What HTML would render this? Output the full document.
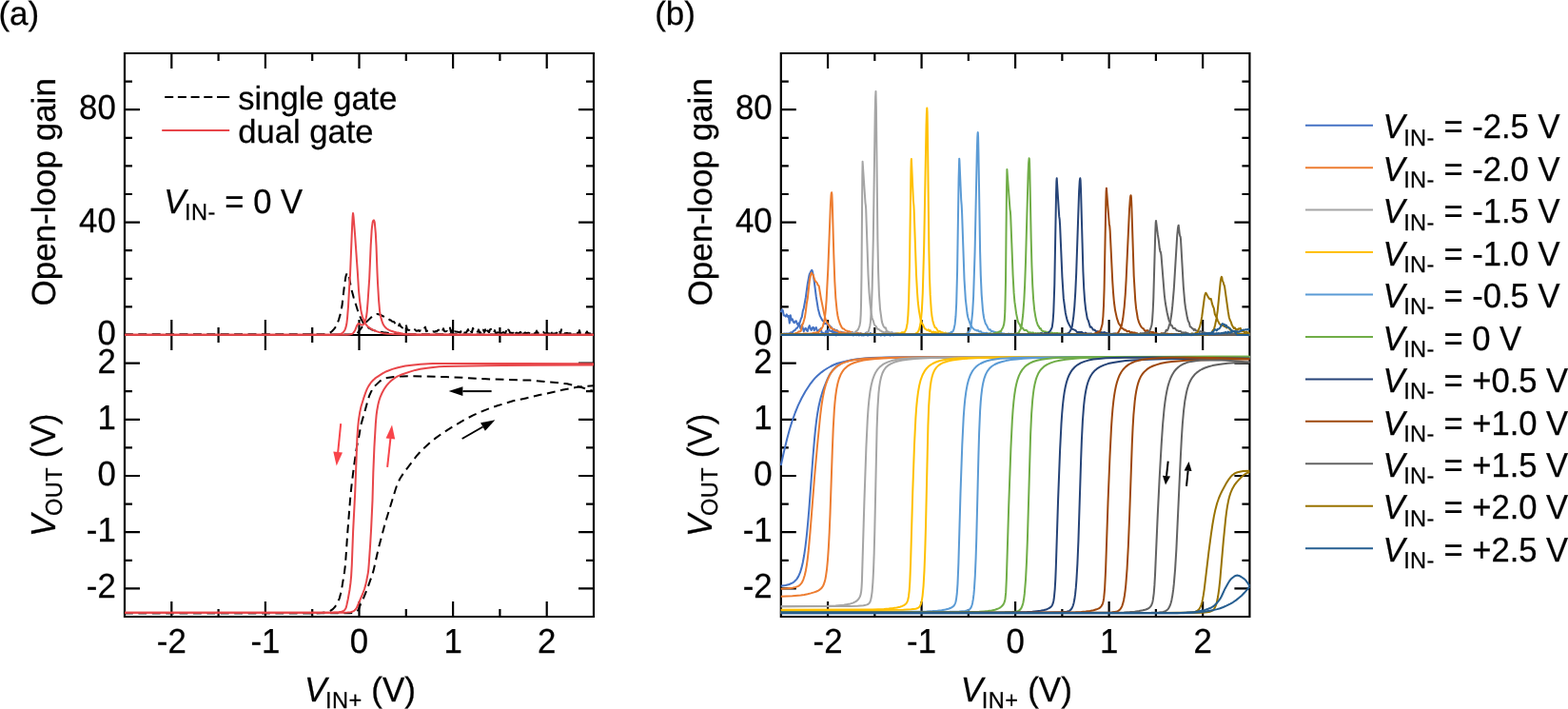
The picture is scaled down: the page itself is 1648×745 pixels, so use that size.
<!DOCTYPE html>
<html lang="en">
<head>
<meta charset="utf-8">
<title>Open-loop gain and V_OUT versus V_IN+</title>
<style>
html,body{margin:0;padding:0;background:#fff;}
body{width:1648px;height:745px;overflow:hidden;}
svg{display:block;}
text{font-family:"Liberation Sans", sans-serif;font-size:34.8px;fill:#000;stroke:#000;stroke-width:0.25px;text-rendering:geometricPrecision;}
.t{font-size:35px;}
.l{font-size:34.6px;}
.i{font-style:italic;}
.s{font-size:23.6px;letter-spacing:0.4px;}
.ax{fill:none;stroke:#000;stroke-width:2.2;stroke-linecap:butt;stroke-linejoin:miter;}
.c{fill:none;stroke-width:2;stroke-linejoin:round;stroke-linecap:butt;}
</style>
</head>
<body>
<svg width="1648" height="745" viewBox="0 0 1648 745">
<rect width="1648" height="745" fill="#fff"/>
<g id="panel-a">
<path class="ax" d="M131 56H624V648H131ZM131 352H624"/>
<path class="ax" d="M180.3 56v16M180.3 336v32M180.3 648v-16M229.6 56v8M229.6 344v16M229.6 648v-8M278.9 56v16M278.9 336v32M278.9 648v-16M328.2 56v8M328.2 344v16M328.2 648v-8M377.5 56v16M377.5 336v32M377.5 648v-16M426.8 56v8M426.8 344v16M426.8 648v-8M476.1 56v16M476.1 336v32M476.1 648v-16M525.4 56v8M525.4 344v16M525.4 648v-8M574.7 56v16M574.7 336v32M574.7 648v-16M131 322.4h8M624 322.4h-8M131 292.8h8M624 292.8h-8M131 263.2h8M624 263.2h-8M131 233.6h16M624 233.6h-16M131 204h8M624 204h-8M131 174.4h8M624 174.4h-8M131 144.8h8M624 144.8h-8M131 115.2h16M624 115.2h-16M131 85.6h8M624 85.6h-8M131 618.4h16M624 618.4h-16M131 588.8h8M624 588.8h-8M131 559.2h16M624 559.2h-16M131 529.6h8M624 529.6h-8M131 500h16M624 500h-16M131 470.4h8M624 470.4h-8M131 440.8h16M624 440.8h-16M131 411.2h8M624 411.2h-8M131 381.6h16M624 381.6h-16"/>
<path class="c" stroke="#000" stroke-width="2.4" stroke-dasharray="8.8 5.6" d="M131 351.6L335.2 351.6L341 351.2L343.8 350.7L347.5 349.2L349 348L351 345.9L352.5 343.8L353.8 341.6L356 336.1L357.8 329.8L359.5 321.3L361.8 301.3L363.2 291.6L364 288.6L364.8 287L365.2 286.6L365.8 287.2L366.8 290L369 302.5L371.8 313L376.5 327.9L378 331.9L379.5 335.1L381 337.9L382.5 340.3L383.5 341.4L385.5 343.1L388 344.9L390.5 346.2L392.8 347.1L396 348L403 349.3L413 350.4L421.8 350.9L438.5 351.3L624 351.6"/>
<path class="c" stroke="#000" stroke-width="2.4" stroke-dasharray="8.8 5.6" d="M131 351.6L371 351.5L374 350.8L375 350.4L376 349.6L382 341.7L385 338.4L391 332.6L394 330.5L395 330.1L396 329.9L398 330.3L400 331L407 334.4L408 334.3L409 335.6L410 336.4L411 336.6L412 337.7L414 338.1L415 339.5L416 340.4L417 339.1L418 341.1L419 342.3L420 340.3L421 342.8L423 344.5L426 346.2L427 342.2L428 346.5L430 347L431 345.7L432 346.8L433 347.4L434 347L435 347L436 346.2L437 347.3L438 347.8L439 347.6L440 347L441 348L442 347.3L443 347.8L445 348.1L446 345L447 343.6L448 348.2L449 347.7L452 348.1L453 347.3L454 348.4L455 348.2L457 348.8L458 347.9L459 348.5L460 347.1L461 346.6L462 348.8L463 348.1L464 348.8L465 348L466 345.2L467 348L468 348.4L470 347.9L471 349L472 348.8L473 344.5L474 349.2L475 345.9L476 348.2L477 349.4L478 348.2L479 348.6L481 348.8L484 349.4L485 346.4L486 349.4L488 349.6L490 349.6L492 346.1L493 349.3L494 346.5L495 348.4L496 349.5L497 344.8L499 349.2L500 349.3L501 349.8L502 348.6L503 346.4L504 349.4L505 349.5L506 348.2L507 349.9L508 346.6L509 349.2L510 346.2L511 350L512 346.3L513 348.3L514 349.3L515 346.4L516 345.7L517 349.4L518 349.9L519 349.9L520 347.1L521 350L522 350L523 349.3L524 349.2L525 346.8L526 350.2L527 350.2L529 349.1L531 350.3L532 347.8L533 350.1L534 346.4L535 347L536 349.6L539 350.1L540 349.1L541 346.5L542 350.1L543 349.5L544 350.3L545 350.3L546 349.7L547 348.7L548 350.4L549 347.5L550 350.1L551 350.5L552 349.4L553 350.3L555 349.7L556 349.8L557 350.4L558 349.9L559 350.3L560 349L561 348.6L562 350.3L563 350.1L564 347.5L565 350L566 349.8L567 350.7L569 349.6L570 348.4L571 348.7L572 350L574 350.4L575 349.7L576 350.2L578 350.6L579 346.8L580 350.4L581 350.7L582 350.4L583 350.8L585 349.5L586 350.8L587 350.2L588 346.9L589 350.8L590 346.2L591 350.4L593 349.6L594 350.9L595 350.1L596 349.9L598 350.4L599 350.2L600 350.7L601 350.4L603 350.6L604 350.5L605 350.7L608 349.7L609 347.1L610 350.8L612 351L613 350.9L614 349.4L615 349.7L616 350.3L617 348.4L618 350.4L619 350.2L620 350.6L621 350.5L623 350.2L624 350.9"/>
<path class="c" stroke="#000" stroke-width="2.4" stroke-dasharray="8.8 5.6" d="M131 644.3L331.2 644.3L338 643.9L343.2 643.2L347.2 641.9L349.8 640.1L352 637.8L353.5 635.6L355.2 632.3L356.8 628.6L358 624L359.2 618.3L362 601.2L363 593.1L365.2 560.7L368.2 522.8L369.5 510.2L371.8 491.7L374 475.7L375.2 468.4L377.8 455.8L379.2 446.8L383.2 433.1L386.8 420L388 416.2L389.8 412.1L391.8 408.6L394.2 405.4L399.2 400.6L400.8 399.5L402.5 398.6L404.8 397.7L407 397L414 395.9L423.2 395.4L433 395.3L468.2 396L486.2 396.8L503.5 397.9L517 398.5L557.2 399.6L578 401.6L591 402.7L596 403.3L601 404.4L611 407L624 411"/>
<path class="c" stroke="#000" stroke-width="2.4" stroke-dasharray="8.8 5.6" d="M131 644.3L368 644.3L370.8 644L374 643L376.2 641.3L377.2 639.7L379 635L382.5 627.3L386 618.8L391.8 602.2L392.8 598.6L397.8 576.1L405 549L415.8 514L417.5 509L420.5 502.7L424 497.3L437.8 479.2L441 475.5L445.2 471.2L452.2 464.8L457.8 460.4L465.2 455.1L476.8 447.8L487.2 441.6L497.2 436.4L504.8 433L513.8 429.4L522.8 426.3L539.2 421.3L552.8 418.4L566 415.3L579.2 412.5L590.8 409.8L599.2 408.1L605.2 407.1L615.5 405.9L624 405.3"/>
<path class="c" stroke="#E8464A" d="M131 351.7L350.2 351.7L352.7 351.6L355.2 351.3L358.3 350.8L359.1 350.5L360.2 349.7L361.4 348.3L362.3 347L363 345.4L363.7 343.1L364.3 340.5L365 334.6L366 322.2L367.1 302.5L368 288.9L370.2 235.6L370.6 228.2L371 224.1L371.2 224.8L371.6 228.2L373.1 246.9L375.9 287L377 305L378 315.3L379.4 326.1L380.1 329.6L381 333L382.4 337L383.5 339.3L385 341.5L386.7 343.2L388.8 344.8L391.4 346.3L393.9 347.5L396.4 348.4L400.2 349.6L402.8 350.2L407.3 350.7L412 351.1L426.1 351.5L439.6 351.7L624 351.7"/>
<path class="c" stroke="#E8464A" d="M131 351.7L364.1 351.7L367.1 351.5L370.2 350.7L370.8 350.3L371.5 349.6L373.1 347.3L375 342.4L376.4 340.2L376.7 340L377.2 340.1L379.6 341.4L380.5 341.6L381.5 341.3L382.6 340.4L383 339.6L383.5 338.1L384.6 334.5L385.1 332.3L385.7 327.6L386.5 318L388.2 292.7L389.7 257.8L390.6 242.7L391 238.3L391.7 233.4L392.1 232.2L392.5 231.6L392.8 231.4L393 231.5L393.3 232.1L393.8 234L394.8 245.1L395.5 258.3L396.5 286.2L397 297.1L398.1 315.7L399.1 327.1L399.7 330.7L400.4 333.9L401.6 337.9L402.7 340.8L403.9 342.7L405.3 344.3L406.7 345.5L408.6 346.6L411.2 347.8L414.5 348.8L417.9 349.6L423.8 350.7L426.8 351L438.9 351.5L464.4 351.6L624 351.7"/>
<path class="c" stroke="#E8464A" d="M131 643.7L345.6 643.7L350.5 643.6L356.1 643.2L358.9 642.8L360.6 642.2L362 641.2L363.3 639.5L363.8 638.2L364.4 635.8L365.7 629.8L367.5 619.7L368.4 612.9L369.1 605.6L369.8 593.5L371.1 558.6L373.2 517.7L375.4 460L376.2 448.5L377 440.8L378.1 433.8L379.5 427.3L382.3 418.1L384.2 412.6L385.8 408.6L387.4 405.6L389.7 402.2L392.1 399.5L393.9 397.9L396 396.3L402.1 392.4L406.3 390.2L412.4 387.9L418.2 386.2L426 384.6L432.5 383.7L441.9 382.7L454.4 382.1L464.5 381.9L548.1 381.9L624 382.3"/>
<path class="c" stroke="#E8464A" d="M131 643.7L362.2 643.7L365.2 643.6L368.6 643.2L370 642.8L371.6 642.1L372.5 641.5L373.3 640.8L374.8 638.8L381.4 623.5L383 619L384.2 614.9L385.2 610.4L386.8 602.1L387.3 598.1L387.7 593.1L389.2 571.2L390.1 555.7L391.5 525.7L392.3 496.9L393.4 469.9L394.8 445.7L395.6 436.1L396.3 431L397.3 425.6L398.4 421L399.6 417.4L401.5 413L403.5 409.2L406.1 405.4L408.7 402.4L410.9 400.3L413.1 398.5L415.3 397L417.4 395.7L419.7 394.6L422.3 393.5L430.8 390.6L436.4 388.9L441.8 387.8L448.9 386.8L461.5 385.3L467.1 385L480.1 384.7L528.4 384L566.4 383.8L624 383.6"/>
<path d="M358.2 445.2L355.2 475.1" stroke="#F8444A" stroke-width="2.0" fill="none"/><path d="M353.7 489.5L350.3 474.6L360 475.6Z" fill="#F8444A"/>
<path d="M407.1 490.8L410.4 460.9" stroke="#F8444A" stroke-width="2.0" fill="none"/><path d="M412 446.5L415.2 461.4L405.6 460.4Z" fill="#F8444A"/>
<path d="M516.6 411.1L486.4 411.1" stroke="#000" stroke-width="2.0" fill="none"/><path d="M471.6 411.1L486.4 406.2L486.4 416Z" fill="#000"/>
<path d="M485.7 461L507.5 448.5" stroke="#000" stroke-width="2.0" fill="none"/><path d="M520.4 441.2L509.9 452.7L505.1 444.3Z" fill="#000"/>
<path d="M173.2 101.9H241.2" stroke="#000" stroke-width="2" stroke-dasharray="9 4.7 9 4.7 9 4.7 9 4.7 14 50" fill="none"/>
<path d="M170.2 136.9H241.2" stroke="#E8464A" stroke-width="2" fill="none"/>
<text text-anchor="end" transform="translate(121.8 362) scale(1 1.04)">0</text>
<text text-anchor="end" transform="translate(121.8 243.6) scale(1 1.04)">40</text>
<text text-anchor="end" transform="translate(121.8 125.2) scale(1 1.04)">80</text>
<text text-anchor="end" transform="translate(121.8 628.4) scale(1 1.04)">-2</text>
<text text-anchor="middle" transform="translate(180.3 685.7) scale(1 1.04)">-2</text>
<text text-anchor="end" transform="translate(121.8 569.2) scale(1 1.04)">-1</text>
<text text-anchor="middle" transform="translate(278.9 685.7) scale(1 1.04)">-1</text>
<text text-anchor="end" transform="translate(121.8 510) scale(1 1.04)">0</text>
<text text-anchor="middle" transform="translate(377.5 685.7) scale(1 1.04)">0</text>
<text text-anchor="end" transform="translate(121.8 450.8) scale(1 1.04)">1</text>
<text text-anchor="middle" transform="translate(476.1 685.7) scale(1 1.04)">1</text>
<text text-anchor="end" transform="translate(121.8 391.6) scale(1 1.04)">2</text>
<text text-anchor="middle" transform="translate(574.7 685.7) scale(1 1.04)">2</text>
<text class="t" transform="translate(58.3 321.5) rotate(-90)">Open-loop gain</text>
<text class="t" transform="translate(58.3 564) rotate(-90) scale(1 1.04)"><tspan class="i">V</tspan><tspan class="s" dx="-1.3" dy="6.0">OUT</tspan><tspan dy="-6.0"> (V)</tspan></text>
<text class="t" transform="translate(320 737.3) scale(1 1.04)"><tspan class="i">V</tspan><tspan class="s" dx="-1.3" dy="6.8">IN+</tspan><tspan dy="-6.8"> (V)</tspan></text>
<text class="t" transform="translate(-1.6 25.5)">(a)</text>
<text class="l" transform="translate(250.2 115.4)">single gate</text>
<text class="l" transform="translate(250.2 149.7)">dual gate</text>
<text class="l" transform="translate(172.3 223.8) scale(1 1.04)"><tspan class="i">V</tspan><tspan class="s" dx="-1.3" dy="7.0">IN-</tspan><tspan dy="-7.0"> = 0 V</tspan></text>
</g>
<g id="panel-b">
<path class="ax" d="M820.8 56H1313.4V648H820.8ZM820.8 352H1313.4"/>
<path class="ax" d="M870.06 56v16M870.06 336v32M870.06 648v-16M919.32 56v8M919.32 344v16M919.32 648v-8M968.58 56v16M968.58 336v32M968.58 648v-16M1017.84 56v8M1017.84 344v16M1017.84 648v-8M1067.1 56v16M1067.1 336v32M1067.1 648v-16M1116.36 56v8M1116.36 344v16M1116.36 648v-8M1165.62 56v16M1165.62 336v32M1165.62 648v-16M1214.88 56v8M1214.88 344v16M1214.88 648v-8M1264.14 56v16M1264.14 336v32M1264.14 648v-16M820.8 322.4h8M1313.4 322.4h-8M820.8 292.8h8M1313.4 292.8h-8M820.8 263.2h8M1313.4 263.2h-8M820.8 233.6h16M1313.4 233.6h-16M820.8 204h8M1313.4 204h-8M820.8 174.4h8M1313.4 174.4h-8M820.8 144.8h8M1313.4 144.8h-8M820.8 115.2h16M1313.4 115.2h-16M820.8 85.6h8M1313.4 85.6h-8M820.8 618.4h16M1313.4 618.4h-16M820.8 588.8h8M1313.4 588.8h-8M820.8 559.2h16M1313.4 559.2h-16M820.8 529.6h8M1313.4 529.6h-8M820.8 500h16M1313.4 500h-16M820.8 470.4h8M1313.4 470.4h-8M820.8 440.8h16M1313.4 440.8h-16M820.8 411.2h8M1313.4 411.2h-8M820.8 381.6h16M1313.4 381.6h-16"/>
<path class="c" stroke="#4472C4" d="M820.8 328.3L821.8 325.2L822.8 326.2L823.8 331.6L824.8 331.6L825.8 332.6L826.8 330.3L827.8 332.8L828.8 331.8L829.8 339.6L830.8 331.3L831.8 336.5L832.8 335.2L833.8 338.1L834.8 339.3L835.8 337.6L836.8 337.2L837.8 340.5L838.8 341L839.8 339.3L840.8 343.9L841.8 346L842.8 341.3L844.8 348.2L845.8 345.6L846.8 344.9L847.8 347L848.8 348L849.8 344.1L850.8 342.1L851.8 345.4L852.8 347L853.8 344.4L854.8 343.9L855.8 347.1L856.8 345.2L857.8 344L858.8 347.6L859.8 349.4L860.8 346.5L861.8 346.9L862.8 345L863.8 351.1L864.8 349.7L865.8 350.3L866.8 352.4L867.8 348.3L868.8 347.5L869.8 350.3L870.8 345.9L871.8 347.2L873.8 348.3L874.8 347.4L875.8 351.8L876.8 348.4L877.8 348.6L878.8 352.5L879.8 349.5L880.8 350.6L881.8 349.2L882.8 351L884.8 350L885.8 351.7L886.8 349.7L887.8 350.7L888.8 350L889.8 351.3L890.8 349.4L891.8 350L892.8 351L893.8 350.1L895.8 349L896.8 352.5L897.8 350.1L899.8 351.3L900.8 352.2L901.8 349.9L902.8 352.5L903.8 350.7L904.8 350L905.7 352.5L906.1 352.5L906.8 351.6L907.8 352.5L909.8 349.9L910.8 349.5L911.7 352.5L912.3 352.5L913.8 350.8L914.8 350L916.8 352.1L917.8 351.2L919.8 351.7L920.8 352.1L921.8 351.1L924.8 351.7L925.6 352.5L926 352.5L926.8 351.9L927.8 350.5L929.5 352.5L929.9 352.5L930.8 350.4L931.8 351.1L932.8 349.7L933.8 351.5L934.8 352L935.4 352.5L935.9 352.5L936.8 350.5L937.8 349.4L938.8 352.3L939.8 352.2L940.4 351.5L940.5 351.7L1313.4 351.7"/>
<path class="c" stroke="#4472C4" d="M820.8 351L822.8 351.4L823.8 350.5L825.8 350.8L826.8 350.4L827.8 350.8L829.8 350.3L830.8 349.5L831.8 349.2L832.8 349.3L833.8 347.9L834.8 347.2L835.8 346.8L836.8 345.1L837.8 344.8L838.8 343.1L840.8 338.6L841.8 335.1L842.8 333L843.8 326.9L844.8 323.7L846.8 312.7L848.8 298.2L850.2 290.6L850.9 287.7L851.8 286.3L852.5 284.6L853.2 283.8L853.7 284.4L854.1 285.9L855.6 294.4L857.8 311.9L859.8 324.4L861.8 331.9L864.1 336.2L864.8 337.1L865.8 337.8L866.8 340.3L868.8 339.7L869.8 341.4L870.8 342L871.8 342.1L873.8 344L874.8 345.4L875.8 346.3L876.8 345.9L877.8 347.4L879.8 347L880.8 348.5L881.2 348.7L881.8 349L883.8 348.8L885.8 349.5L886.8 349.5L887.8 350.6L889.8 350.1L890.8 350.7L891.8 350.9L893.8 350.9L894.8 350.7L895.8 351.1L897.8 350.3L898.8 351L899.8 350.6L901.8 351.4L902.8 351.2L903.8 351.5L904.8 351L905.8 351.6L906.8 350.9L907.8 351.1L908.8 351.9L909.8 351.1L910.8 351L911.8 351.6L912.8 351.2L913.8 351.9L914.8 351.4L915.8 351.9L916.8 351.4L917.8 351.9L918.8 352.2L919.8 351.4L920.8 351L921.8 351.7L922.8 351.3L924.8 351.6L926.8 351.2L927.8 351.9L928.8 351.5L929.8 351.5L930.8 351.9L931.6 351.4L931.7 351.7L1313.4 351.7"/>
<path class="c" stroke="#ED7D31" d="M820.8 351.6L822.8 351.5L823.8 351.3L825.8 351.6L826.8 351.5L827.8 351.2L829.8 351.2L830.8 350.5L831.8 351.1L832.8 350.9L833.8 351.1L836.8 349.9L837.8 349.8L839.8 348.3L840.8 348.4L841.8 347.7L842.8 342.4L844.1 339.7L845.8 333.8L846.8 327.7L847.8 319.1L848.8 313.6L850.8 295.3L852.1 288.5L852.6 287L853 286.6L853.8 288.4L854.8 288.9L855.8 292.9L856.8 295.1L858.8 297.4L859.6 299.6L860.3 299.9L860.8 300.9L862.8 313.1L866.6 331.6L867.8 335.9L868.8 338.4L871.8 342.3L872.8 344.5L873.8 344.5L874.8 345.4L877.8 347.3L878.8 347.2L879.8 347.9L880.8 348.2L881.8 349L882.8 348.7L883.8 349.2L884.8 350.2L885.8 349.4L886.8 349.8L887.8 349.6L888.8 350.1L891.8 350.4L893.8 351.1L894.8 350.2L895.8 351.2L897.8 350.7L901.8 350.8L902.8 351.1L903.8 350.5L904.8 351.4L905.8 351.2L907.8 351.4L909.8 351L910.8 351.5L911.8 351.5L914.8 351L917.8 351.5L918.8 351.4L920.8 351.8L921.8 351.5L924.8 351.6L925.8 351.2L929.8 351.8L931.8 351.5L933.8 351.6L934.8 351.4L936.1 351.7L1313.4 351.7"/>
<path class="c" stroke="#ED7D31" d="M820.8 351.5L823.8 351.4L824.8 351.2L825.8 351.5L826.8 351.4L827.8 351.8L829.8 351.6L830.8 351.7L832.8 351.2L833.8 351.4L834.8 351.4L836.8 351.2L837.8 351.4L838.8 351.1L841.8 350.9L842.8 351L843.8 350.9L844.8 350.4L845.8 350.8L846.8 350.5L850.8 350.7L851.8 350.4L852.8 350.5L853.8 350.4L854.8 349.7L855.8 350.1L856.8 349.5L857.8 349.7L858.8 349.2L859.8 349.4L860.8 348.6L861.8 346.6L862.8 346.5L864.8 343.1L866.3 337.2L866.9 334L867.8 326L868.6 315.5L870.3 282.7L872.9 214.8L873.5 205.4L873.8 202.9L874.1 202.2L874.4 204.4L874.8 213.3L876.3 267.5L877.3 295.2L878.3 313L879.6 326.2L880.4 331.5L881.1 334.8L882.8 340.2L884.8 344.2L885.8 345.2L886.8 345.4L888.8 347.4L889.8 347.5L891.8 348.4L892.8 348.1L893.8 349.3L894.8 349.1L895.8 349.4L897.8 350.3L898.8 349.8L900.8 350.3L902.8 350.5L903.8 350.8L904.8 350.6L905.8 351.2L906.8 350.8L907.8 351.2L909.8 350.8L911.8 351.2L912.8 351L915.8 351.3L916.8 350.9L918.8 351.2L919.8 351.6L920.8 351.2L921.8 351.6L922.8 351.3L923.8 351.6L924.8 351L925.8 351.8L926.8 351.2L927.8 351.3L928.8 351.8L930.8 351.2L931.8 351.3L932.8 351.8L933.8 351.6L934.8 351.8L936.8 351.7L937.8 351.2L938.8 351.5L940.8 351.6L942.8 351.5L943.8 351.8L944.8 351.3L945.8 351.8L948.8 351.3L950.2 351.7L1313.4 351.7"/>
<path class="c" stroke="#A5A5A5" d="M820.8 351.7L861.9 351.7L862 351.5L862.8 351.4L863.8 351.7L864.8 351.5L866.8 351.7L867.8 351.4L868.8 351.7L869.8 351.5L870.8 351.7L872.8 351.6L873.8 351.3L875.8 351.4L876.8 351.1L877.8 352L878.8 351.6L879.8 351.9L880.8 351.3L881.8 351.2L883.8 351.1L884.8 351.4L885.8 350.7L888.8 351.2L889.8 350.7L890.8 350.9L893.8 350.4L894.8 350.5L895.8 349.6L896.8 350.1L897.4 350L897.8 349.9L898.8 348.8L899.8 348.2L901.1 347L901.8 346.3L902.2 345.5L903.5 342.2L904.2 338.1L904.7 330.6L905 321L905.5 287.9L906.3 186.5L906.6 169.7L909.5 213.1L909.9 215.9L910.2 220.3L912.5 288.6L913.5 307.1L914.6 319.6L915.6 328L916.6 334L916.9 335.3L917.8 337L918.8 340.7L919.8 342.2L920.8 343L921.8 345.1L922.8 345.9L923.8 346.1L924.8 347.2L925.8 347.4L926.8 348.5L927.8 348.5L928.8 349.3L929.8 349.7L930.8 348.6L931.8 349.3L932.8 349.4L933.8 350.2L934.8 350.1L935.8 350.3L936.8 350.8L937.8 350.3L938.8 350.7L939.8 350.7L940.8 351.1L941.8 350.5L943.8 350.8L944.8 351.2L945.8 351.2L946.8 350.8L947.8 351.2L949.8 351.2L950.8 351.5L951.8 350.9L952.8 351.7L953.8 351.3L954.8 351.4L955.8 351.7L956.8 351.3L959.8 351.6L961.8 351.3L962.8 351.4L963.8 351.2L964.8 351.3L966.8 351.3L967.8 351.7L971.8 351.3L975.8 351.6L977.8 351.7L978.4 351.5L978.5 351.7L1313.4 351.7"/>
<path class="c" stroke="#A5A5A5" d="M820.8 351.7L893.8 351.7L894.8 352L895.8 351.4L899.8 351.4L900.8 351L901.8 351.4L902.8 351.2L903.8 351.5L904.8 351.2L907.8 351.3L908.8 351.1L911.3 349.7L912.8 348.3L914.3 342.7L914.9 338.6L916 320.4L916.7 301.9L917.8 250.8L919.7 119.3L920.1 102.1L920.5 95.9L920.9 112L922.4 250.5L923.1 285.3L923.9 308.5L925 324.6L926.8 337.6L927.7 340.7L928.7 343L929.8 344.5L930.8 344.3L931.8 347.2L932.8 348.8L933.8 348.5L934.8 349.4L936.8 349.3L937.8 349.9L938.8 350L939.8 350.6L940.8 350L941.8 350.5L942.8 350L943.8 350.1L944.8 350.8L947.8 350.6L948.8 351.3L950.8 350.5L951.8 351L953.8 351.1L954.8 351.4L955.8 350.9L957.8 351.2L959.8 351.1L960.8 351.7L961.8 351.2L962.8 351.5L963.8 351.3L965.8 351.6L966.8 351.2L968.8 351.5L971.8 351.5L972.8 351.9L976.8 351.2L977.8 351.7L978.8 351.2L979.8 351.5L980.8 351.4L982.8 351.7L983.8 351.3L984.8 351.6L987.8 351.3L988.8 351.9L992.4 351.2L992.5 351.7L1313.4 351.7"/>
<path class="c" stroke="#FFC000" d="M820.8 351.7L913.3 351.8L915.8 351.4L916.8 351.7L919.8 351.6L920.8 351.7L922.8 351.5L924.8 351.5L925.8 351.7L927.8 351.6L928.8 351.2L929.8 351.1L930.8 351.3L931.8 351L932.8 351.4L934.8 351.5L935.8 351.1L936.8 351.3L938.8 350.9L940.8 351.2L941.8 350.8L943.8 350.6L944.8 350.3L945.8 350.4L946.7 350.3L947.8 349.3L950.3 349L950.8 348.8L951.2 348.3L951.9 347.1L952.6 345.2L953.7 339.4L954.4 331.1L955.1 316.2L956 278.2L957.4 180.1L957.7 168.8L957.9 167L959.9 210.8L960.4 215.8L960.7 221.6L963 288.5L964 306.8L964.8 317.7L965.9 326.6L967.8 337.1L968.8 339.7L969.8 340.7L971.8 345.2L972.8 345.6L973.8 346.6L974.8 347L975.8 346.4L976.8 348.1L977.8 347.1L978.8 348.7L979.8 349.2L980.8 348.5L981.8 349L983.8 349.1L984.8 349.6L985.8 349.7L986.8 350.8L988.8 350.3L990.8 350.4L991.8 350.9L993.8 350.4L994.8 350.8L997.8 350.9L999.8 351.3L1001.8 351.2L1002.8 351.6L1003.8 351.2L1006.8 351.5L1008.8 351.3L1009.8 351.6L1011.8 351.3L1012.8 351.3L1013.8 351.7L1015.8 351.5L1016.8 351.7L1017.8 351L1018.8 351.7L1019.8 351.7L1020.8 351.4L1022.8 352L1023.8 351.6L1026.8 351.9L1029.3 351.6L1313.4 351.7"/>
<path class="c" stroke="#FFC000" d="M820.8 351.7L945.3 351.7L945.8 351.9L946.8 351.8L947.8 351.4L948.8 352L949.8 351.5L950.8 351.6L951.8 351.3L953.8 351.7L954.8 351.2L955.8 351.5L956.8 351L957.8 351L958.8 351.3L959.8 351L961.8 351.1L962.8 350.2L963.8 349.8L964.9 348.5L965.8 346.7L966.6 344.1L967.3 340.8L968 336L968.9 325.8L969.8 307.8L971.2 257.8L973.5 132.7L973.9 119.3L974.3 113.6L974.6 117.9L974.8 129.3L976.4 264.1L977 291.2L977.7 309.9L978.8 326.4L979.5 332.3L980.3 336.9L981.3 340.6L982.7 344L983 344.3L983.8 344.4L985.8 347.8L986.8 348.3L987.8 348.1L988.8 348.7L989.8 349.5L990.8 349.2L991.8 350.3L992.8 350.1L993.8 349.5L994.8 351.1L995.8 350.4L996.8 350.2L997.8 350.6L999.8 351L1000.8 351.4L1002.8 350.9L1003.8 351.1L1006.8 351L1007.8 351.5L1008.8 351.3L1010.8 351.3L1012.8 351.8L1013.8 351.2L1014.8 351.2L1015.8 350.9L1016.8 351.2L1017.8 351.1L1019.8 351.5L1020.8 351.3L1021.8 351.7L1022.8 351.4L1024.8 351.7L1025.8 351.3L1027.8 351.4L1029.8 351.2L1031.8 351.8L1033.8 351.4L1035.8 351.9L1036.8 351.3L1037.8 351.5L1038.8 351.3L1040.8 351.7L1041.8 351.6L1043.8 351.8L1313.4 351.7"/>
<path class="c" stroke="#5B9BD5" d="M820.8 351.7L963.6 351.7L963.7 351.5L964.8 351.8L965.8 351.5L967.8 351.7L969.8 351.7L970.8 351.2L971.8 351.7L974.8 351.2L975.8 351.7L976.8 351.1L977.8 351.2L978.8 351.7L979.8 351L980.8 351.7L981.8 351.2L982.8 351.6L983.8 351.7L984.8 351.1L990.8 351.2L991.8 350.7L994.8 350.7L995.8 350.5L996.8 350.7L997.8 350.1L998.8 350L999.8 348.7L1000.8 349L1001.7 347.8L1002.5 346L1003.6 340.9L1004.5 332.2L1005.2 318.7L1006.1 284.8L1007.6 187.9L1008.2 166.7L1008.4 168.4L1010.2 209.9L1010.7 215.8L1011.1 223.8L1013.5 293.5L1014.8 314.3L1016.5 329L1016.8 331.1L1017.5 334L1019.8 340.6L1021.8 344.1L1023.1 345.5L1024.2 346.3L1024.8 346.7L1025.8 346.7L1026.8 347.6L1027.8 347L1028.8 348.2L1029.8 348.6L1030.8 348.1L1031.8 349.3L1032.8 349.8L1033.8 349.7L1034.8 350.3L1035.8 349.9L1036.8 349.7L1038.8 350.6L1041.8 350.4L1042.8 350.9L1043.8 351L1044.8 350.6L1045.8 350.9L1047.8 351L1048.8 351.3L1050.8 351L1051.8 351.3L1054.8 351.2L1055.8 350.8L1056.8 351.5L1058.8 351L1059.8 351.4L1060.8 351.4L1061.8 351.7L1062.8 351.3L1065.8 351.5L1070.8 351.4L1071.8 351.8L1072.8 351.6L1073.8 352.1L1074.8 351.6L1075.8 351.4L1076.8 351.6L1077.8 351.2L1078.8 351.8L1313.4 351.7"/>
<path class="c" stroke="#5B9BD5" d="M820.8 351.7L998.7 351.7L998.8 351.4L999.8 351.7L1000.8 351.5L1002.8 351.8L1003.8 351.5L1004.8 351.8L1006.8 351.3L1008.8 351.6L1011.8 351.2L1012.8 351.7L1013.8 351.5L1014.8 350.8L1016.4 350.4L1018 349.1L1019 347.8L1019.8 345.8L1021 339.5L1022.2 327.5L1023.1 311.8L1024.6 264.6L1026.8 159.4L1027.3 144.4L1027.6 139.9L1027.8 139.1L1028.1 144.1L1028.4 157.9L1030.1 264.5L1030.8 289.6L1031.7 309.9L1032.9 325.1L1033.6 330.8L1034.3 334.7L1035.8 340.1L1036.8 341.3L1038.8 345.6L1039.8 346.7L1040.8 346.2L1041.8 348.1L1042.8 347.9L1043.8 348.4L1044.8 348.4L1045.8 349.5L1046.8 349.2L1047.8 349.5L1049.8 349.5L1050.8 350L1051.8 350.3L1052.8 350L1053.8 350.8L1054.8 350.5L1055.8 350.9L1058.8 351.2L1059.8 350.6L1061.8 350.9L1062.8 350.7L1065.8 351.4L1066.8 351L1068.8 350.9L1069.8 351.4L1070.8 351.3L1071.8 351.6L1072.8 351.1L1077.8 351.5L1078.8 351.2L1079.8 351.5L1080.8 351.3L1083.8 351.8L1085.8 351.5L1086.8 351.7L1087.8 351.4L1088.8 351.3L1091.8 352L1092.8 351.4L1093.8 351.3L1094.8 351.6L1095.8 351.5L1097.8 351.7L1098.8 351.4L1099.8 351.7L1101.8 351.3L1102.8 351.6L1103.8 351.3L1104.8 351.8L1105.8 351.4L1106 351.7L1313.4 351.7"/>
<path class="c" stroke="#70AD47" d="M820.8 351.7L1013.7 351.7L1014.8 351.4L1016.8 351.9L1019.8 351.1L1020.8 351.6L1021.8 351.7L1024.8 351.7L1026.8 351.4L1027.8 351.6L1028.8 351.2L1029.8 351.4L1031.8 351.5L1034.8 351.1L1035.8 351.4L1036.8 351L1037.8 351.2L1040.8 350.5L1041.8 351L1042.8 351.1L1044.8 350.2L1045.8 350.5L1046.8 349.4L1047.8 350.7L1048.8 349.1L1050.8 348.3L1051.8 348.5L1052.8 346.3L1054.1 344.2L1055.2 340.6L1055.8 336L1056.3 326.9L1057 295.5L1058 197L1058.4 178L1061.5 220.1L1061.9 222.5L1062.2 226.8L1064.6 289.2L1065.6 307.9L1066.4 317.2L1068.1 329.4L1069.8 337.7L1070.8 339.9L1071.8 341L1072.8 343.9L1073.8 344.5L1074.8 344.6L1075.8 346.3L1076.8 347.1L1077.8 346.8L1078.8 346.9L1080.8 349.2L1081.8 349.6L1082.8 349.2L1083.8 350.1L1084.8 349.6L1085.8 349.4L1086.8 350.9L1087.8 350.2L1088.8 350.1L1089.8 350.5L1090.8 350.3L1092.8 350.3L1093.8 350L1094.8 350.7L1095.8 351.1L1097.8 351.3L1098.8 350.9L1101.8 351.1L1102.8 350.8L1104.8 351L1105.8 351.4L1106.8 351.4L1107.8 351.6L1109.8 351.4L1110.8 351.7L1111.8 351.6L1112.8 351L1114.8 351.8L1117.8 351.3L1118.8 351.5L1119.8 351.4L1121.8 351.8L1122.8 351.4L1123.8 351.6L1124.8 351.2L1125.8 351.7L1129.8 351.5L1130.8 351.6L1131.5 351.5L1131.6 351.7L1313.4 351.7"/>
<path class="c" stroke="#70AD47" d="M820.8 351.7L1052.5 351.7L1052.8 351.4L1054.8 351.6L1056.8 351.4L1059.8 351.5L1061.8 351.3L1062.8 350.9L1063.8 351.5L1064.8 351.2L1065.8 351.4L1066.8 351.1L1067.8 350.2L1068.8 350.6L1070.5 349.6L1070.9 349.2L1071.8 347.2L1072.8 345.6L1073.8 342.3L1075.2 330.7L1076.3 316L1077.1 300.1L1078 275.1L1080.6 181.8L1081.1 170.8L1081.6 166.3L1081.8 166.8L1082 169.7L1082.3 179.1L1083.7 251L1084.4 278.3L1085.2 299.3L1086.1 314.4L1087.2 325.9L1088.3 332.6L1089.3 337.2L1090.8 341.8L1091.8 343L1092.8 345.2L1093.8 345.1L1094.8 347.2L1095.8 347.9L1096.8 348.1L1097.8 349L1098.8 348.4L1099.8 349.2L1100.8 349.3L1101.8 349L1102.8 350.4L1103.8 349.8L1105.8 349.6L1107.8 350.5L1108.8 350L1109.8 350.2L1110.8 349.9L1111.8 350L1112.8 350.7L1113.8 350.3L1115.8 351.1L1116.8 350.7L1117.8 350.6L1118.8 351.6L1119.8 350.7L1120.8 351.3L1121.8 350.7L1123.1 351.1L1123.8 351.1L1124.8 350.9L1125.8 351.3L1126.8 350.8L1127.8 351.5L1129.8 351.5L1130.8 351.2L1131.8 351.4L1133.8 351.1L1136.8 351.2L1139.8 351.7L1140.8 351.3L1142.8 351.7L1145.8 351.5L1147.8 351.7L1148.8 351.4L1149.8 352L1151.8 351.4L1152.8 351.5L1153.8 351.3L1154.8 351.6L1155.8 351.5L1157.8 351.7L1159.8 351.4L1160.8 352L1161.8 351.8L1162.8 352L1163.2 351.9L1163.3 351.7L1313.4 351.7"/>
<path class="c" stroke="#264478" d="M820.8 351.7L1066 351.7L1066.1 351.9L1066.8 351.9L1067.8 351.5L1069.8 351.3L1070.8 351.4L1071.8 351.2L1073.8 351.7L1074.8 351.3L1075.8 351.7L1077.8 351.4L1078.8 351.5L1079.8 351.3L1080.8 351.5L1081.8 351L1082.8 351.6L1083.8 351.2L1084.8 351.4L1085.8 351L1086.8 351.4L1087.8 351.1L1088.8 351.9L1090.8 350.7L1091.8 351L1092.8 350.9L1094.8 350.1L1095.8 351L1096.8 350.6L1097.8 350.6L1098.8 350.1L1100.8 350.4L1101.8 350L1102.8 348.5L1103.8 347.8L1105.3 345L1105.8 343.7L1106.6 337.6L1107.3 327.8L1108.3 299.3L1110 205.6L1110.4 190.6L1110.7 187.3L1113.2 227.4L1113.7 230.7L1114.1 236.7L1116.4 291L1117.8 313.4L1119.8 328.5L1121 334.1L1121.8 336.9L1122.6 339L1123.8 341.4L1124.8 342.8L1125.8 345.1L1130.8 347.4L1131.8 349.1L1134.8 349L1135.8 349.4L1136.8 348.7L1137.8 349.8L1138.8 350L1139.8 350.6L1140.8 349.6L1141.8 350.3L1143.8 350.7L1144.8 350.6L1145.8 350.8L1146.8 350.4L1147.8 351.1L1149.8 351.1L1150.8 350.9L1152.8 350.9L1155.8 351.2L1156.8 351.1L1158.8 351.2L1159.8 351.7L1160.8 351.5L1162.8 351.8L1163.8 351.2L1164.8 351.2L1166.8 351.4L1167.8 351.2L1168.8 351.8L1169.8 351.3L1170.8 351.9L1171.8 351.5L1175.8 351.4L1176.8 351.7L1178.8 351.8L1179.8 351.6L1313.4 351.7"/>
<path class="c" stroke="#264478" d="M820.8 351.7L1106.1 351.7L1106.8 351.5L1107.8 351.7L1108.8 351.6L1109.8 351.3L1111.8 351.6L1112.8 351.4L1113.8 351.5L1114.8 351.3L1115.8 351.6L1117.8 351.6L1118.8 350.9L1121.8 350.4L1122.5 350.1L1123.8 349.3L1124.2 348.7L1125.8 345.9L1126.8 343L1128.3 332.6L1129.3 322.1L1130.3 306.4L1131.2 286.6L1134.1 201.4L1134.7 191.1L1135 188.3L1135.3 187.3L1135.6 189.4L1136 198.6L1138.4 285.3L1139.2 303L1140.1 315.9L1141.1 325.1L1142.8 334.9L1143.8 336.8L1145.8 343.7L1146.8 343.5L1147.8 344.6L1148.8 346.5L1149.8 346.5L1150.8 347L1151.8 348L1153.8 348.2L1154.8 348.9L1155.8 349L1156.8 349.7L1157.8 349.1L1158.8 349.8L1159.8 349.3L1160.8 349.1L1161.8 349.4L1162.8 350.3L1163.8 350.1L1164.8 350.4L1165.8 350.3L1166.8 350.8L1167.8 350.9L1168.8 350.7L1169.8 350.9L1170.8 350.4L1173.8 351L1174.8 351L1175.8 350.8L1177.8 351.1L1178.8 350.7L1179.8 351.1L1180.8 351.2L1181.8 351.2L1182.8 350.9L1183.8 351.4L1184.8 351.4L1185.8 351L1187.8 351L1188.8 351.5L1189.8 351.3L1190.8 351.5L1191.8 351.3L1192.8 351.7L1194.8 351.2L1195.8 351.4L1196.8 351.9L1197.8 351.3L1199.8 351.5L1201.8 351.6L1202.8 351.3L1204.8 351.8L1205.8 351.7L1206.8 351.2L1208.8 351.4L1209.8 351.7L1211.8 351.4L1212.8 351.6L1214.8 351.4L1217.8 351.5L1218.8 351.8L1221.7 351.3L1221.8 351.7L1313.4 351.7"/>
<path class="c" stroke="#9E480E" d="M820.8 351.7L1118.2 351.7L1118.3 351.5L1118.8 351.5L1121.8 351.6L1123.8 351.4L1124.8 351.6L1125.8 351.2L1126.8 351.8L1128.8 351.7L1129.8 351.3L1130.8 351.3L1131.8 351.6L1132.8 351.4L1134.8 351.7L1137.8 351.2L1138.8 351.4L1141.8 350.8L1144.8 351.4L1145.8 350.9L1149.8 350.7L1151.8 349.9L1152.8 350.2L1153.8 348.8L1154.8 348.4L1155.8 348.4L1157 346.3L1158.6 340.6L1159.4 332.5L1160 321.1L1160.6 302.6L1162.3 212.2L1162.6 201.4L1162.9 197.7L1165.8 235.2L1166.3 237.8L1166.7 242.7L1169.2 294.7L1170 307.1L1170.9 317.5L1172.1 326.3L1173.9 334.4L1175.8 339.9L1177.8 342.7L1178.8 344.8L1179.8 344.9L1181.8 346.7L1182.8 346.5L1184.8 348.4L1185.8 347.9L1186.8 347.9L1187.8 349.5L1189.8 349.1L1190.8 349.4L1192.8 349.5L1193.8 350.7L1194.8 350L1195.8 350.9L1197.8 350.9L1198.8 350.5L1199.8 351.2L1200.8 350.8L1201.8 351.3L1202.8 350.5L1203.8 351.1L1204.8 351.1L1205.8 351.4L1206.8 351.3L1207.8 350.9L1209.8 351.5L1211.8 351.4L1212.8 351L1213.8 351.4L1216.8 351L1218.8 351.7L1219.8 351.7L1220.8 351.2L1222.8 351.9L1223.8 351.7L1228.8 351.4L1229.5 351.8L1313.4 351.7"/>
<path class="c" stroke="#9E480E" d="M820.8 351.7L1159.1 351.7L1159.8 351.4L1160.8 351.8L1161.8 351.5L1163.8 351.9L1165.8 351.7L1166.8 351.2L1167.8 351.5L1169.8 351.4L1172.8 350.4L1174.3 350.2L1174.8 350L1175.9 348.4L1178.8 342.4L1180.2 334.8L1181.7 322.3L1182.8 308.7L1183.6 294.4L1187 220L1187.8 209L1188.2 206L1188.5 205.2L1188.7 205.5L1188.9 207.1L1189.3 214.8L1191.7 290L1193.2 315.1L1194.1 324.2L1195.8 334.5L1197.1 338.9L1198.6 342L1199.8 343.9L1200.8 344.9L1201.8 345.3L1202.8 347L1203.8 348.2L1204.8 347.4L1205.8 347.1L1206.8 347.9L1207.8 349.3L1208.8 348.8L1209.8 348.8L1210.8 349.1L1211.8 348.9L1212.8 349.5L1213.8 351L1214.8 349.9L1215.8 350.5L1217.8 350.9L1219.8 350.7L1220.8 350.3L1222.8 350.6L1223.8 350.5L1224.8 351L1225.8 351.1L1226.8 350.5L1228.8 351.1L1229.8 350.9L1230.8 351.3L1231.8 350.8L1232.8 351.5L1234.8 351.3L1236.8 351.6L1237.8 351.1L1239.8 351.3L1240.8 351.2L1241.8 351.5L1242.8 351.2L1244.8 351.6L1249.8 351.1L1250.8 351.8L1251.8 351.8L1253.8 351.2L1255.8 351.5L1257.8 351.6L1258.8 351.2L1259.8 351.6L1260.8 351.5L1261.8 351.8L1262.8 351.4L1263.8 351.6L1266.8 351.6L1267.8 351.1L1268.8 351.5L1269.8 351.5L1272.8 352L1273.7 351.7L1313.4 351.7"/>
<path class="c" stroke="#636363" d="M820.8 351.7L1170.8 351.7L1171.8 351.3L1172.8 351.4L1173.8 351.2L1174.8 351.9L1175.8 351.2L1176.8 351.7L1177.8 351.7L1178.8 351.6L1179.8 351.2L1181.8 351.4L1184.8 351.1L1187.8 351.2L1188.8 351.7L1189.8 351.3L1190.8 351.9L1191.8 351.2L1194.8 351.2L1195.8 350.7L1196.8 351L1197.8 350.9L1198.8 350.2L1199.8 350.6L1200.8 350.3L1201.8 350.3L1202.8 350.1L1203.8 349.6L1204.8 349.9L1205.8 349.1L1206.8 349.2L1207.7 348.4L1209.3 345.3L1210.4 341.8L1211 337.2L1211.7 326.7L1212.3 313.4L1214.3 243.3L1214.7 233.9L1215 231.9L1216.8 246.2L1217.8 252.6L1218.8 261.3L1219.5 264.7L1219.6 264.9L1219.8 264.5L1220 265.1L1220.5 268.5L1223.8 310L1224.9 318.8L1226.6 328.2L1228.2 335.3L1228.8 337.2L1229.8 339L1230.8 341.8L1231.8 342.1L1232.8 344.7L1233.8 345.1L1234.8 344.8L1236.8 347.3L1237.8 347.2L1238.8 348L1240.8 347.9L1242.8 350.1L1243.8 349.2L1244.8 350L1245.8 349.3L1246.8 349.6L1247.8 350.2L1248.8 350.2L1249.8 351L1250.8 351.2L1251.8 350.8L1253.8 350.4L1254.8 351.2L1255.8 351.3L1257.8 351.4L1258.8 351.2L1259.8 351.7L1260.8 351.1L1261.8 351.7L1262.8 350.8L1263.8 351.5L1264.8 351.5L1265.8 351.9L1266.8 351.5L1267.8 352L1268.8 351.4L1268.9 351.7L1313.4 351.7"/>
<path class="c" stroke="#636363" d="M820.8 351.7L1209.2 351.7L1209.3 351.5L1209.8 351.5L1210.8 351.2L1211.8 351.8L1212.8 351.9L1213.8 351.7L1214.8 351.1L1215.8 351.5L1217.8 351.6L1218.8 351.2L1219.8 351.2L1220.8 350.7L1221.8 350.9L1222.8 350.2L1223.8 350.4L1224.8 349.2L1225.8 346.7L1226.8 347.4L1227.8 345.4L1228.8 341.9L1229.8 339.5L1231.4 329.5L1232.3 321.2L1233.8 303.7L1237.2 247.8L1238 239.7L1238.4 237.4L1238.7 236.7L1239.8 246.1L1240.3 248.4L1240.5 248.3L1240.7 248.8L1241 251.5L1243.8 301L1245.2 317.5L1246 323.5L1247.8 333.6L1248.8 337.4L1249.8 339.1L1250.8 343.3L1251.8 343.6L1252.8 344.9L1253.8 345.4L1254.8 346.9L1255.8 345.9L1256.8 347.3L1257.8 347.5L1260.8 349L1261.8 348.1L1262.8 348.7L1263.8 348.5L1264.8 349.6L1266.8 349.6L1267.8 350.1L1268.8 350.1L1269.8 350.8L1271.8 350.7L1272.8 350.9L1273.8 350.4L1275.8 350.5L1276.8 350.8L1277.8 350.4L1278.8 350.5L1280.8 351L1281.8 350.5L1282.8 351.4L1284.8 351.5L1285.8 350.7L1287.8 351.3L1288.8 351.8L1289.8 351.3L1291.8 351.8L1292.8 351L1293.8 351.3L1294.8 350.9L1295.8 351.3L1296.8 351.2L1297.8 351.5L1298.8 351.2L1299.8 351.5L1300.8 351.2L1302.8 351.7L1303.8 351.4L1304.8 351.4L1305.8 351.6L1308.8 351.2L1309.8 351.5L1310.8 352.1L1311.8 351.3L1312.8 351.1L1313.4 351.4"/>
<path class="c" stroke="#997300" d="M820.8 351.7L1241.2 351.8L1241.8 351.7L1242.8 351.1L1243.8 351.3L1244.8 351.2L1245.8 351.6L1246.8 351.5L1248.8 352L1249.8 351.9L1251.8 351.2L1252.8 350.5L1253.8 351.1L1254.8 351.4L1256.8 349.8L1257.8 350.1L1258.1 349.7L1259 348.2L1261 343.4L1262.3 338L1263.2 333L1265.9 312.5L1266.6 309.3L1267.3 307.7L1267.8 308.3L1269.8 312.1L1271.3 314.2L1271.8 314.5L1272.3 314L1272.8 313.9L1273.8 318.6L1274.8 321.8L1275.8 323.9L1276.8 330L1277.8 332.1L1278.8 333.6L1279.8 336.6L1281.8 340.6L1282.8 340.9L1283.8 342.3L1284.8 341.3L1286.8 343.1L1287.8 342.1L1288.8 344.2L1289.8 344.5L1290.8 343.6L1291.8 344.6L1292.8 346.6L1294.8 347.3L1295.8 348.3L1296.8 348.2L1297.8 349L1298.8 349.1L1299.8 349.8L1300.8 350L1301.8 350.6L1302.8 350.5L1304.8 350.7L1306.8 351.3L1307.8 351.3L1308.8 351L1309.8 351.5L1310.8 351.5L1311.8 351.1L1313.4 351.4"/>
<path class="c" stroke="#997300" d="M820.8 351.7L1257.8 351.7L1257.9 351.9L1258.8 351.2L1259.8 351.8L1260.8 351.4L1261.8 351.7L1263.8 351.6L1264.8 351.9L1265.8 351.6L1266.8 350.9L1267.8 351.6L1268.8 351.1L1269.8 351.6L1270.8 350.2L1271.8 350.9L1272.8 350.3L1274 348.6L1274.8 347L1275.8 346.6L1277.1 341.5L1278.5 334.7L1279.7 326.9L1282.8 295.4L1283.4 292L1283.9 290.8L1284.3 291.5L1284.8 294.9L1285.8 296.9L1286.2 298.8L1286.8 300L1287.2 301.8L1290.8 327.7L1291.8 333.5L1292.7 336.2L1293.8 338.4L1294.8 341.6L1296.8 344.9L1297.8 344.2L1298.8 346.2L1299.8 345.9L1300.8 346.7L1301.8 345.2L1302.8 345.7L1303.8 344.8L1304.8 347.6L1305.8 348.2L1306.8 347.5L1307.8 349.2L1309.8 348.6L1310.8 349.4L1311.8 349.4L1312.8 350.5L1313.4 350.6"/>
<path class="c" stroke="#255E91" d="M820.8 351.9L1233.8 351.9L1233.9 351.7L1234.8 352.1L1235.8 351.4L1236.8 351.7L1237.8 351.7L1238.8 351.9L1240.8 351.6L1241.8 352.3L1242.8 351.4L1243.8 351.8L1244.8 351.8L1246.8 351.2L1247.8 351.6L1248.8 351.4L1249.8 351.8L1251.8 351.4L1253.8 352.1L1254.8 351.6L1257.8 351L1258.8 350.9L1259.8 351.1L1260.8 350.8L1261.8 350.9L1262.8 350.8L1263.8 351.1L1264.8 350.5L1265.8 350.8L1266.8 350.2L1267.8 350.9L1268.8 349.9L1269.8 350.5L1270.8 349.8L1271.8 350.2L1272.8 349.9L1273.8 348.8L1274.8 349.4L1275.8 347.5L1276.8 346.2L1277.8 346.5L1278.8 347.4L1279.8 345.7L1280.8 345.7L1281.5 345.3L1282.5 344L1283.8 341.3L1284.8 340.1L1285.8 340.8L1286.8 340.8L1287.8 342.9L1288.8 341.6L1289.8 343.6L1292.8 345.2L1293.8 346.5L1294.8 348.6L1295.8 347.8L1296.8 348.2L1297.8 348L1298.8 350.2L1300.2 352L1313.4 351.9"/>
<path class="c" stroke="#255E91" d="M820.8 351.9L1241.8 351.8L1242.8 352L1243.8 351.6L1244.8 351.8L1245.8 351.6L1247.8 351.8L1250.8 351.7L1251.8 352.2L1252.8 351.9L1253.8 351.3L1254.8 351.6L1255.8 351.3L1257.8 351.8L1258.8 351.5L1260.8 351.5L1261.8 351L1262.8 351L1263.8 351.5L1264.8 350.8L1266.8 351.5L1267.8 351L1269.8 351.1L1270.8 351.5L1271.8 350.9L1272.8 351.2L1273.8 350.5L1274.8 351.2L1275.8 351.3L1276.8 350.7L1277.8 351.1L1278.8 350.2L1279.8 350.8L1280.8 350.1L1281.8 350.6L1283.8 350L1284.8 350.2L1285.8 349.6L1286.8 350L1287.8 349.1L1288.8 349.3L1289.8 350.2L1290.8 348.6L1292.8 349.7L1293.8 349.1L1294.8 348.9L1295.8 348.4L1297.8 347.9L1298.8 349L1299.8 348.1L1301.8 348.8L1302.8 348.2L1303.8 348.1L1304.8 347L1305.8 347.1L1306.8 346.6L1307.8 346.7L1309.8 346.1L1310.8 346.6L1311.8 345.9L1313.4 345.8"/>
<path class="c" stroke="#4472C4" d="M820.8 489L823.8 475.3L827.3 460.7L829.8 451.5L832.6 442.4L835.8 433.5L838.9 425.9L842.6 418.3L846.5 411.3L851.1 404.2L854.8 399.3L856.5 397.4L858.9 395L863.5 391.1L866.3 389L869.5 387L873 385L876 383.5L880.3 381.8L887.4 379.9L892.1 378.9L896.8 378.1L908.5 377L915.8 376.5L925.9 376.1L944.3 375.6L996.3 375.3L1313.4 375.3"/>
<path class="c" stroke="#4472C4" d="M820.8 615.8L825.7 615L829.5 614L832.6 612.6L834 611.8L835.2 610.8L837.3 608.6L839.2 605.6L840.9 601.7L842.4 596.9L843.8 591L845.2 583.3L846.5 574.3L847.8 563.1L849 550.9L850.3 535.8L854.5 479.4L856.1 460.3L857.1 450.4L858.2 441.2L859.3 433.7L860.5 427L862.4 418.7L864.6 411.3L866.2 406.9L868.3 401.7L870.1 397.5L871.5 394.6L872.7 392.6L874.1 390.5L875.6 388.6L877.2 386.9L878.8 385.4L880.6 384.1L882.5 382.8L884.6 381.7L888.2 380.2L892.2 379L896.8 378L902.1 377.2L908.2 376.6L915.4 376.1L924.1 375.8L934.8 375.6L956.3 375.4L992.6 375.3L1313.4 375.3"/>
<path class="c" stroke="#ED7D31" d="M820.8 618.8L827.7 618.3L833 617.7L836.5 616.9L839.1 615.8L840.2 615.1L841.2 614.2L842.1 613.2L842.9 612L844.4 608.8L845.7 604.8L846.8 600L847.8 594.3L848.8 587.1L849.8 578.2L851.5 559.3L856.1 501.2L859 468.3L862.1 437L863.4 426.5L864.7 418.1L866.2 410.6L867.9 404.2L869.8 398.8L871.9 394.3L873.1 392.3L874.4 390.4L875.8 388.7L877.2 387.2L878.8 385.7L880.5 384.4L882.3 383.3L884.3 382.2L888 380.6L892.2 379.3L897.1 378.3L902.7 377.5L909.3 376.8L917.1 376.4L926.7 376L938.6 375.8L967.4 375.5L1016.2 375.4L1313.4 375.3"/>
<path class="c" stroke="#ED7D31" d="M820.8 626.8L832.7 626.3L841.6 625.5L845.3 624.9L848.8 624.2L852.2 623.4L855.6 622.4L858.1 621.5L860 620.6L861.6 619.6L862.9 618.5L864 617.3L865 615.7L865.8 614L866.6 611.7L867.3 609L867.9 606.1L869 598.5L870 588L870.9 574.7L871.7 559.2L872.5 540.1L874.8 473.2L875.7 450.6L876.8 431.2L877.5 422.6L878.2 416L879.2 409L880.4 403L881.8 398L883.5 393.8L885.5 390.3L886.7 388.7L888 387.2L889.4 385.9L890.9 384.7L894.3 382.7L898.1 381L902.5 379.7L907.6 378.6L913.5 377.7L920.4 377L928.6 376.5L938.5 376.1L950.8 375.8L979.9 375.5L1028.2 375.4L1313.4 375.3"/>
<path class="c" stroke="#A5A5A5" d="M820.8 637.3L848.8 637.1L866.3 636.9L878.2 636.4L886.7 635.7L890.5 635.1L893.7 634.4L896.3 633.6L898.4 632.7L900.1 631.7L901.6 630.3L902.9 628.6L903.9 626.7L904.7 624.1L905.2 621.1L905.6 616.6L905.9 611L908.4 527.1L910.4 469.9L911.8 440.2L912.6 428.6L913.4 420L914.5 411.3L915.7 404.7L917.2 398.8L918.9 394.2L919.9 392.1L921 390.2L922.2 388.4L923.5 386.9L924.9 385.4L926.4 384.2L928.1 382.9L929.9 381.9L933.3 380.4L937.1 379.1L941.5 378.1L946.6 377.3L952.6 376.7L959.7 376.2L968.3 375.9L979 375.7L1004.8 375.4L1048.4 375.3L1313.4 375.2"/>
<path class="c" stroke="#A5A5A5" d="M820.8 637.2L880 637.1L892.8 637L901.3 636.7L907.5 636.2L909.6 635.8L911.1 635.4L912.2 635L913.1 634.3L913.9 633.4L914.5 632.3L915.1 630.6L915.7 628.1L916.6 621.8L917.4 611.8L918.1 597.9L918.7 580.7L919.3 558.1L921.6 450.5L922.4 429L923.4 413.7L924.1 407L925 401.1L926.1 396.2L927.4 392.2L929 389L930.9 386.3L933.2 384.2L936.1 382.3L939.5 380.8L943.6 379.5L948.5 378.5L954.4 377.7L961.3 377L969.6 376.5L979.4 376.1L991.4 375.8L1019.5 375.4L1064.6 375.3L1313.4 375.2"/>
<path class="c" stroke="#FFC000" d="M820.8 640.8L899.1 640.6L917 640.4L929 640L934.2 639.6L938.6 639.1L942.5 638.5L945.8 637.7L948.3 636.9L950.3 635.9L951.8 634.8L953 633.3L953.7 631.9L954.2 630.5L955 626.7L955.7 620.6L956.3 611.6L957.1 591.6L959.2 518.3L961 467.2L962.4 438.7L963.1 428.8L963.9 420.3L965 411.7L966.2 405L967.7 399.1L969.4 394.5L970.4 392.4L971.5 390.4L972.7 388.6L974 387L975.4 385.6L976.9 384.3L978.6 383.1L980.4 382L983.6 380.5L987.3 379.3L991.5 378.3L996.4 377.5L1002.1 376.8L1008.8 376.3L1016.9 376L1026.8 375.7L1050.7 375.4L1089.9 375.3L1313.4 375.2"/>
<path class="c" stroke="#FFC000" d="M820.8 641L920.8 641L949.3 640.7L957.5 640.3L962.4 639.7L963.9 639.3L965.1 638.7L966 638L966.8 637L967.7 635.2L968.4 633L969 630.1L969.6 626.1L970.6 615.5L971.5 599.5L972.3 578.3L973 553.5L975.4 447.7L976.2 426.6L977.1 412.7L977.8 405.9L978.7 399.9L979.7 395.5L980.9 391.8L982.4 388.6L984.2 386.1L986.5 383.9L989.2 382.1L992.4 380.7L996.2 379.5L1000.8 378.5L1006.3 377.7L1012.7 377L1020.3 376.5L1029.4 376.1L1040.3 375.8L1065.9 375.5L1105.9 375.3L1313.4 375.2"/>
<path class="c" stroke="#5B9BD5" d="M820.8 643L936.4 642.9L959.1 642.7L973.8 642.4L980.1 642.1L985.3 641.7L989.7 641.2L993.6 640.5L996.8 639.7L999.3 638.8L1001.2 637.7L1002.6 636.4L1003.4 635.2L1004 633.8L1004.5 632.2L1005 629.8L1005.8 623.5L1006.5 613.6L1007.4 591.7L1009.5 518.3L1011.3 467.2L1012.7 438.7L1013.5 427.7L1014.3 419.4L1015.4 411.1L1016.6 404.6L1018.1 398.8L1019.8 394.2L1020.8 392.2L1021.9 390.2L1023.1 388.5L1024.3 387L1025.7 385.6L1027.2 384.3L1028.9 383L1030.7 382L1033.8 380.5L1037.3 379.3L1041.3 378.3L1046 377.5L1051.3 376.8L1057.5 376.4L1064.9 376L1074 375.7L1095.7 375.4L1130.3 375.2L1313.4 375.1"/>
<path class="c" stroke="#5B9BD5" d="M820.8 643L964.1 643L998 642.8L1008.2 642.5L1014.4 642L1016.3 641.6L1017.7 641.1L1018.8 640.5L1019.7 639.6L1020.7 638.1L1021.5 636L1022.2 633.2L1022.8 629.7L1023.4 624.9L1023.9 619.4L1024.8 605.2L1025.6 586.5L1026.3 564.7L1028.4 479.2L1029.1 455L1030.1 431.8L1030.7 422.7L1031.3 415.9L1032.2 408.4L1033.2 402.7L1034.4 397.8L1035.9 393.6L1037.7 390.1L1039.8 387.3L1042.3 385L1045.4 383L1048.7 381.5L1052.6 380.2L1057.2 379.1L1062.5 378.1L1068.6 377.4L1075.8 376.8L1084.2 376.3L1094.1 376L1117.3 375.5L1152.2 375.3L1313.4 375.1"/>
<path class="c" stroke="#70AD47" d="M820.8 643.6L971.9 643.6L998.7 643.5L1015.8 643.2L1029.2 642.8L1034.2 642.4L1038.4 642L1042.3 641.4L1045.7 640.7L1048.4 639.8L1050.5 638.9L1052.1 637.8L1053.4 636.6L1054.5 635.2L1055.4 633.4L1056 631.6L1056.5 629.2L1057.2 622.4L1057.9 607.2L1060.2 531.6L1062.4 471.3L1063.8 442.3L1064.6 430.6L1065.4 421.8L1066.2 415L1067.2 408.5L1068.3 403.2L1069.5 398.8L1070.9 394.9L1072.6 391.4L1074.5 388.4L1076.7 385.8L1079.3 383.6L1082.4 381.6L1085.9 380L1090 378.7L1094.7 377.7L1100.1 376.9L1106.5 376.2L1114.3 375.8L1132.8 375.2L1162 375L1313.4 374.8"/>
<path class="c" stroke="#70AD47" d="M820.8 643.6L1005 643.6L1043.8 643.5L1056.1 643.3L1063.9 643L1068.3 642.5L1069.7 642.1L1070.9 641.6L1072.4 640.4L1073.6 638.7L1074.6 636.2L1075.4 633.2L1076.1 629.3L1076.8 623.9L1078 609.4L1079 590.4L1079.9 566.7L1083.1 456.8L1084.1 435.1L1085.2 420.3L1085.9 413.8L1086.7 408.2L1087.6 403.4L1088.6 399.4L1089.8 395.8L1091.2 392.6L1092.8 389.9L1094.6 387.7L1097.2 385.2L1100.4 383.1L1104.2 381.4L1108.6 379.9L1113.8 378.7L1120 377.7L1127.2 376.9L1135.7 376.3L1144.8 375.9L1155.6 375.6L1184.7 375.1L1230.3 374.9L1313.4 374.8"/>
<path class="c" stroke="#264478" d="M820.8 643.8L1015.2 643.8L1045.6 643.7L1064.5 643.5L1079.4 643.1L1084.9 642.8L1089.5 642.3L1093.7 641.8L1097.4 641L1100.3 640.2L1102.5 639.2L1104 638.2L1105.1 637.1L1106 635.7L1106.7 633.9L1107.3 631.5L1107.8 628.5L1108.7 619.1L1109.3 608.6L1109.8 596.4L1112.1 524.6L1114.1 472.8L1115.5 444.9L1116.2 434.7L1117 425.5L1117.8 418.3L1118.7 412.1L1119.7 406.7L1120.9 401.7L1122.2 397.6L1123.7 394L1125.4 390.9L1127.3 388.2L1129.8 385.5L1132.6 383.3L1135.9 381.4L1139.7 379.9L1144 378.6L1149.1 377.6L1155 376.9L1162.1 376.3L1170.9 375.9L1181.8 375.7L1212.5 375.5L1259.4 375.9L1313.4 376.8"/>
<path class="c" stroke="#264478" d="M820.8 643.8L1095 643.7L1108.4 643.5L1116.7 643.2L1121.2 642.7L1122.7 642.3L1123.9 641.8L1124.8 641.2L1125.5 640.6L1126.7 638.9L1127.7 636.6L1128.6 633.4L1129.4 629.3L1130.1 624.2L1130.8 617.4L1131.4 609.7L1132.4 592.5L1133.4 569L1136.1 484L1136.9 462.2L1137.9 442.1L1139.1 426.4L1139.8 419.9L1140.6 414.2L1141.4 409.7L1142.4 405.2L1143.5 401.5L1144.8 398.1L1146.2 395.2L1147.8 392.7L1150.2 389.8L1153 387.4L1156.3 385.4L1160.2 383.6L1164.7 382.1L1170 380.9L1176.1 379.9L1183.1 379.1L1190.7 378.4L1199.6 378L1222.8 377.3L1256.9 377L1313.4 376.8"/>
<path class="c" stroke="#9E480E" d="M820.8 643.9L1060.2 643.9L1114.1 643.6L1130.4 643.2L1136.3 642.9L1141.2 642.5L1145.6 641.9L1149.4 641.2L1152.4 640.3L1154.8 639.3L1156.3 638.3L1157.5 637.1L1158.4 635.6L1159.1 633.8L1159.7 631.4L1160.2 628.4L1161.1 618.8L1162.1 598.4L1164.5 528.1L1166.5 479L1168 449.1L1168.7 438.6L1169.5 429L1170.2 422.3L1171 416.1L1171.9 410.6L1172.9 405.7L1174 401.5L1175.3 397.6L1176.7 394.2L1178.3 391.3L1180.4 388.3L1182.9 385.6L1185.7 383.4L1189 381.5L1192.7 379.9L1196.9 378.7L1201.8 377.7L1207.5 377L1214.2 376.4L1222.3 376L1232 375.8L1243.8 375.7L1275.4 376L1313.4 377"/>
<path class="c" stroke="#9E480E" d="M820.8 643.9L1146.6 643.8L1160.4 643.7L1168.2 643.4L1172.5 642.8L1174 642.4L1175.3 641.9L1176.8 640.8L1178.1 639.2L1179.2 637.1L1180.2 634.2L1181.1 630.5L1181.9 626L1182.6 620.8L1183.3 614.3L1184.6 597.3L1185.9 572.8L1187.2 540.6L1189.8 466.4L1190.6 448.9L1191.4 435.8L1192.7 421.4L1193.4 415.9L1194.2 411L1195.1 406.7L1196.2 402.6L1197.4 399.2L1198.8 396.1L1200.7 393L1202.9 390.4L1205.4 388.2L1208.4 386.2L1211.9 384.5L1215.9 383.1L1220.5 381.8L1225.8 380.8L1231.7 380L1238.4 379.4L1246.2 378.8L1255.3 378.4L1278.5 377.8L1313.4 377.5"/>
<path class="c" stroke="#636363" d="M820.8 644L1105.8 644L1163.6 643.8L1181.2 643.4L1187.5 643.1L1192.6 642.7L1197.2 642.1L1201.2 641.3L1204.3 640.5L1206.7 639.5L1208 638.6L1209.1 637.6L1210 636.3L1210.7 634.7L1211.3 632.7L1211.8 630.4L1212.7 623.6L1213.4 614.9L1214 604.4L1216.6 544.6L1218.6 503.8L1220.7 466.6L1222.1 445.9L1223.6 429.4L1224.5 422.1L1225.4 416.1L1226.4 410.7L1227.5 405.9L1228.8 401.5L1230.2 397.7L1231.9 394L1233.9 390.7L1236.1 388L1238.5 385.7L1241.2 383.8L1244.3 382.2L1247.8 380.9L1251.8 379.9L1256.5 379.2L1262 378.6L1268.3 378.4L1275.6 378.4L1284 378.6L1293.2 379.1L1303.1 379.8L1313.4 380.7"/>
<path class="c" stroke="#636363" d="M820.8 644L1195.3 643.9L1209.9 643.8L1217.9 643.5L1222.4 642.9L1224 642.5L1225.3 641.9L1226.9 640.8L1228.3 639.1L1229.5 636.8L1230.5 634L1231.4 630.4L1232.3 625.6L1233.1 619.9L1233.8 613.7L1235.1 598.1L1236.4 576.8L1240.9 479L1241.9 460L1242.8 446L1244 432.1L1245.3 421.5L1246.9 412.7L1247.8 409L1248.8 405.7L1250.2 402L1251.7 399L1253.4 396.3L1255.4 393.8L1257.7 391.6L1260.3 389.7L1263.2 388L1266.5 386.5L1270.2 385.3L1274.4 384.1L1279.1 383.2L1284.3 382.4L1290.2 381.7L1296.9 381.2L1313.4 380.4"/>
<path class="c" stroke="#997300" d="M820.8 644L1221.5 644L1237.5 643.8L1247.3 643.6L1253 643.3L1254.9 643L1256.5 642.6L1258 642L1259.2 641.2L1260.2 640.2L1261.1 638.9L1261.9 637.3L1262.6 635.4L1263.3 633L1264 629.9L1264.8 625.4L1265.7 619.3L1270.4 579.9L1272.8 561.8L1274.4 551L1275.9 542.4L1277.4 535.4L1279.1 529L1281 523.5L1282.4 520.1L1284.1 516.5L1288.7 508L1290.5 505.1L1292.1 502.8L1293.6 500.9L1295.2 499.3L1296.7 498.2L1298.3 497.2L1300 496.5L1301.9 495.9L1304.1 495.4L1306.6 495.1L1313.4 494.7"/>
<path class="c" stroke="#997300" d="M820.8 644L1237.3 644L1253.5 643.9L1263.2 643.7L1268.6 643.3L1271.9 642.7L1273.5 642L1274.9 641.1L1276 639.8L1277 638.2L1277.9 636.1L1278.7 633.5L1279.5 630.1L1280.2 626.3L1281.3 618.6L1282.3 609.4L1285.8 568.9L1288.2 544.9L1289.1 537.7L1290.1 531.2L1291.1 526.1L1292.2 521.6L1293.6 517.3L1295.3 513.4L1297.3 509.9L1299.8 506.6L1303.7 502.3L1307.1 499.3L1308.6 498.2L1310.1 497.3L1311.7 496.6L1313.4 496.1"/>
<path class="c" stroke="#255E91" d="M820.8 644.3L1230.2 644.3L1237.2 644.2L1244.8 643.8L1255.5 643.1L1258.7 642.6L1262.5 641.8L1266.5 640.9L1269.8 639.8L1273 638.5L1275.1 637.2L1276.8 635.8L1278.6 634L1280.6 631.6L1282.4 629.2L1283.9 626.5L1287.6 618.4L1290.8 612.7L1292.5 610L1293.7 608.6L1295.5 607L1297.2 605.7L1298.6 605L1299.5 604.7L1300.3 604.6L1301.2 604.7L1302.2 604.9L1304.3 606L1307.4 608.1L1308.7 609.2L1310.1 610.9L1311.6 613L1313.4 615.8"/>
<path class="c" stroke="#255E91" d="M820.8 644.3L1235.3 644.3L1244.2 644.2L1255 643.7L1260 643.3L1267 642.5L1271.7 641.8L1276 640.9L1279.3 640.1L1282.3 639.2L1285.6 638L1289.2 636.4L1293.3 634.3L1296 632.8L1299.2 630.6L1302.7 627.8L1305.1 625.7L1307.9 622.8L1310.7 619.7L1313.4 616.3"/>
<path d="M1227.7 484.7L1226 500.2" stroke="#000" stroke-width="2.0" fill="none"/><path d="M1225 509.6L1222 499.7L1230 500.6Z" fill="#000"/>
<path d="M1247 510.9L1248.6 494.8" stroke="#000" stroke-width="2.0" fill="none"/><path d="M1249.5 485.1L1252.5 495.1L1244.6 494.4Z" fill="#000"/>
<text text-anchor="end" transform="translate(811.6 362) scale(1 1.04)">0</text>
<text text-anchor="end" transform="translate(811.6 243.6) scale(1 1.04)">40</text>
<text text-anchor="end" transform="translate(811.6 125.2) scale(1 1.04)">80</text>
<text text-anchor="end" transform="translate(811.6 628.4) scale(1 1.04)">-2</text>
<text text-anchor="middle" transform="translate(870.06 685.7) scale(1 1.04)">-2</text>
<text text-anchor="end" transform="translate(811.6 569.2) scale(1 1.04)">-1</text>
<text text-anchor="middle" transform="translate(968.58 685.7) scale(1 1.04)">-1</text>
<text text-anchor="end" transform="translate(811.6 510) scale(1 1.04)">0</text>
<text text-anchor="middle" transform="translate(1067.1 685.7) scale(1 1.04)">0</text>
<text text-anchor="end" transform="translate(811.6 450.8) scale(1 1.04)">1</text>
<text text-anchor="middle" transform="translate(1165.62 685.7) scale(1 1.04)">1</text>
<text text-anchor="end" transform="translate(811.6 391.6) scale(1 1.04)">2</text>
<text text-anchor="middle" transform="translate(1264.14 685.7) scale(1 1.04)">2</text>
<text class="t" transform="translate(748.1 321.5) rotate(-90)">Open-loop gain</text>
<text class="t" transform="translate(748.1 564) rotate(-90) scale(1 1.04)"><tspan class="i">V</tspan><tspan class="s" dx="-1.3" dy="6.0">OUT</tspan><tspan dy="-6.0"> (V)</tspan></text>
<text class="t" transform="translate(1009.8 737.3) scale(1 1.04)"><tspan class="i">V</tspan><tspan class="s" dx="-1.3" dy="6.8">IN+</tspan><tspan dy="-6.8"> (V)</tspan></text>
<text class="t" transform="translate(688.2 25.5)">(b)</text>
</g>
<g id="legend">
<path d="M1372 131.7H1443" stroke="#4472C4" stroke-width="2" fill="none"/>
<text class="l" transform="translate(1453.4 145.4) scale(1 1.04)"><tspan class="i">V</tspan><tspan class="s" dx="-1.3" dy="7.0">IN-</tspan><tspan dy="-7.0"> = -2.5 V</tspan></text>
<path d="M1372 176.15H1443" stroke="#ED7D31" stroke-width="2" fill="none"/>
<text class="l" transform="translate(1453.4 189.85) scale(1 1.04)"><tspan class="i">V</tspan><tspan class="s" dx="-1.3" dy="7.0">IN-</tspan><tspan dy="-7.0"> = -2.0 V</tspan></text>
<path d="M1372 220.6H1443" stroke="#A5A5A5" stroke-width="2" fill="none"/>
<text class="l" transform="translate(1453.4 234.3) scale(1 1.04)"><tspan class="i">V</tspan><tspan class="s" dx="-1.3" dy="7.0">IN-</tspan><tspan dy="-7.0"> = -1.5 V</tspan></text>
<path d="M1372 265.05H1443" stroke="#FFC000" stroke-width="2" fill="none"/>
<text class="l" transform="translate(1453.4 278.75) scale(1 1.04)"><tspan class="i">V</tspan><tspan class="s" dx="-1.3" dy="7.0">IN-</tspan><tspan dy="-7.0"> = -1.0 V</tspan></text>
<path d="M1372 309.5H1443" stroke="#5B9BD5" stroke-width="2" fill="none"/>
<text class="l" transform="translate(1453.4 323.2) scale(1 1.04)"><tspan class="i">V</tspan><tspan class="s" dx="-1.3" dy="7.0">IN-</tspan><tspan dy="-7.0"> = -0.5 V</tspan></text>
<path d="M1372 353.95H1443" stroke="#70AD47" stroke-width="2" fill="none"/>
<text class="l" transform="translate(1453.4 367.65) scale(1 1.04)"><tspan class="i">V</tspan><tspan class="s" dx="-1.3" dy="7.0">IN-</tspan><tspan dy="-7.0"> = 0 V</tspan></text>
<path d="M1372 398.4H1443" stroke="#264478" stroke-width="2" fill="none"/>
<text class="l" transform="translate(1453.4 412.1) scale(1 1.04)"><tspan class="i">V</tspan><tspan class="s" dx="-1.3" dy="7.0">IN-</tspan><tspan dy="-7.0"> = +0.5 V</tspan></text>
<path d="M1372 442.85H1443" stroke="#9E480E" stroke-width="2" fill="none"/>
<text class="l" transform="translate(1453.4 456.55) scale(1 1.04)"><tspan class="i">V</tspan><tspan class="s" dx="-1.3" dy="7.0">IN-</tspan><tspan dy="-7.0"> = +1.0 V</tspan></text>
<path d="M1372 487.3H1443" stroke="#636363" stroke-width="2" fill="none"/>
<text class="l" transform="translate(1453.4 501) scale(1 1.04)"><tspan class="i">V</tspan><tspan class="s" dx="-1.3" dy="7.0">IN-</tspan><tspan dy="-7.0"> = +1.5 V</tspan></text>
<path d="M1372 531.75H1443" stroke="#997300" stroke-width="2" fill="none"/>
<text class="l" transform="translate(1453.4 545.45) scale(1 1.04)"><tspan class="i">V</tspan><tspan class="s" dx="-1.3" dy="7.0">IN-</tspan><tspan dy="-7.0"> = +2.0 V</tspan></text>
<path d="M1372 576.2H1443" stroke="#255E91" stroke-width="2" fill="none"/>
<text class="l" transform="translate(1453.4 589.9) scale(1 1.04)"><tspan class="i">V</tspan><tspan class="s" dx="-1.3" dy="7.0">IN-</tspan><tspan dy="-7.0"> = +2.5 V</tspan></text>
</g>
</svg>
</body>
</html>
